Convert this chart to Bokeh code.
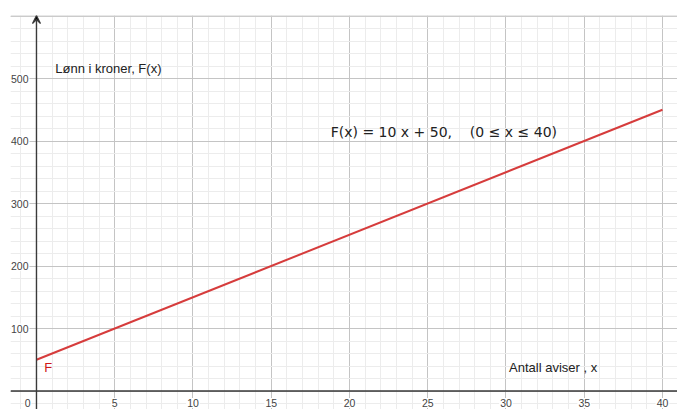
from bokeh.plotting import figure
from bokeh.models import (Range1d, SingleIntervalTicker, Span, Arrow, VeeHead,
                          ColumnDataSource, Label)
from bokeh.embed import file_html
from bokeh.resources import INLINE
from bokeh.core.properties import value

# Income function F(x) = 10x + 50 on 0 <= x <= 40
x_values = [0, 40]
f_values = [50, 450]

x_ticks = [5, 10, 15, 20, 25, 30, 35, 40]
y_ticks = [100, 200, 300, 400, 500]

x_title = "Antall aviser , x"
y_title = "Lønn i kroner, F(x)"
NB = "\u00a0"
formula = ("F(x)" + NB + "=" + NB + "10" + NB + "x" + NB + "+" + NB + "50,"
           + NB * 4 + "(0" + NB + "≤" + NB + "x" + NB + "≤" + NB + "40)")

X0, X1 = -1.66, 40.96
Y0, Y1 = -29.6, 600.8

p = figure(width=677, height=409, output_backend="svg", toolbar_location=None,
           x_range=Range1d(X0, X1), y_range=Range1d(Y0, Y1),
           min_border_left=10, min_border_top=15, min_border_right=0,
           min_border_bottom=0)
p.xaxis.visible = False
p.yaxis.visible = False
p.outline_line_color = None
p.background_fill_color = "white"
p.border_fill_color = "white"

# GeoGebra-style grid: majors every 5 / 100, minors every 1 / 20
p.xgrid.ticker = SingleIntervalTicker(interval=5, num_minor_ticks=5)
p.ygrid.ticker = SingleIntervalTicker(interval=100, num_minor_ticks=5)
for g in (p.xgrid, p.ygrid):
    g.grid_line_color = "#c4c4c4"
    g.grid_line_width = 1
    g.minor_grid_line_color = "#ececec"
    g.minor_grid_line_width = 1

# top edge of the graphics view
p.add_layout(Span(location=Y1, dimension="width", line_color="#d2d2d2",
                  line_width=2))

# axes
p.add_layout(Span(location=0, dimension="width", line_color="#3a3a3a",
                  line_width=1.4))
p.add_layout(Arrow(end=VeeHead(size=8, line_color="#3a3a3a", line_width=1.2),
                   x_start=0, y_start=Y0, x_end=0, y_end=Y1,
                   line_color="#3a3a3a", line_width=1.4))

# tick labels with white backing
tick_font = value("Liberation Sans")
p.text(x=x_ticks, y=[0] * len(x_ticks), text=[str(t) for t in x_ticks],
       text_align="center", text_baseline="middle", y_offset=12,
       text_font=tick_font, text_font_size="10.5px", text_color="#444444",
       background_fill_color="white", padding=1)
p.text(x=[0] * len(y_ticks), y=y_ticks, text=[str(t) for t in y_ticks],
       text_align="right", text_baseline="middle", x_offset=-7,
       text_font=tick_font, text_font_size="10.5px", text_color="#444444",
       background_fill_color="white", padding=1)
p.text(x=[0], y=[0], text=["0"], text_align="right", text_baseline="middle",
       x_offset=-5, y_offset=12, text_font=tick_font, text_font_size="10.5px",
       text_color="#444444", background_fill_color="white", padding=1)

# the function graph
src = ColumnDataSource(dict(x=x_values, y=f_values))
p.line("x", "y", source=src, line_color="#d63c3c", line_width=2)

# labels
p.add_layout(Label(x=1.2, y=516, text=y_title, text_baseline="middle",
                   text_font="Liberation Sans", text_font_size="13px",
                   text_color="#222222"))
p.add_layout(Label(x=30.2, y=37.6, text=x_title, text_baseline="middle",
                   text_font="Liberation Sans", text_font_size="13px",
                   text_color="#222222"))
p.add_layout(Label(x=18.8, y=415, text=formula, text_baseline="middle",
                   text_font="DejaVu Sans", text_font_size="14px",
                   text_color="#222222"))
p.add_layout(Label(x=0.5, y=37.6, text="F", text_baseline="middle",
                   text_font="Liberation Sans", text_font_size="13px",
                   text_color="#d01818"))

open("out.html", "w").write(file_html(p, INLINE))
